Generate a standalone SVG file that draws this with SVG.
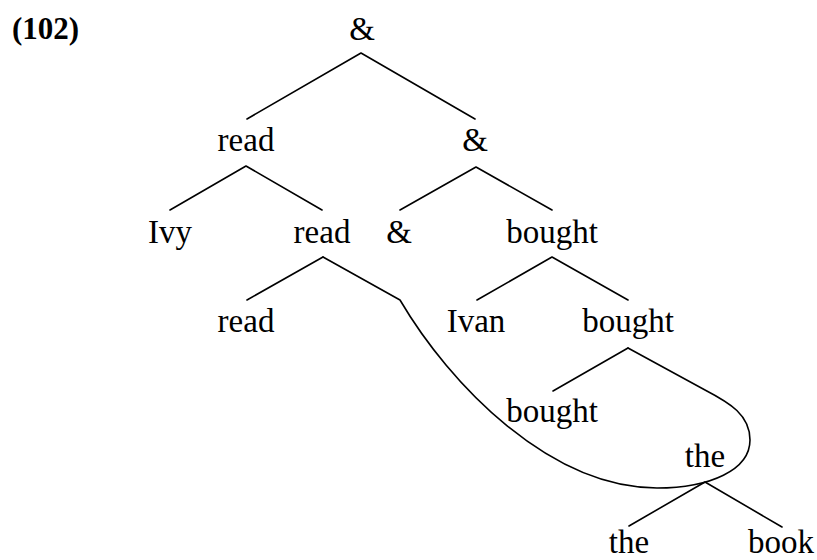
<svg xmlns="http://www.w3.org/2000/svg" width="817" height="560" viewBox="0 0 817 560">
<style>
text{font-family:"Liberation Serif","DejaVu Serif",serif;font-size:33px;fill:#000;text-anchor:middle}
.lbl{font-weight:bold;text-anchor:start;font-size:31px}
.e{stroke:#000;stroke-width:1.6;fill:none;stroke-linecap:round;stroke-linejoin:round}
</style>
<rect width="817" height="560" fill="#fff"/>
<text class="lbl" x="12" y="39">(102)</text>
<g id="connectors">
<path class="e" d="M361,53 L247,119 M361,53 L475,119"/>
<path class="e" d="M246,166 L170,210 M246,166 L322,210"/>
<path class="e" d="M476,167 L400,210 M476,167 L552,210"/>
<path class="e" d="M552,257 L477,300 M552,257 L628,300"/>
<path class="e" d="M323,257 L247,300"/>
<path class="e" d="M628,348 L553,391"/>
<path class="e" d="M705,482 L629,526 M705,482 L782,527"/>
<path id="movement" class="e" d="M323,257 L400,300 C450,385 550,488 657,488 C710,488 750,470 750,440 C750,415 730,403 705,390 L628,348"/>
</g>
<g id="n-root"><text x="362" y="40">&amp;</text></g>
<g id="n-read1"><text x="246" y="151">read</text></g>
<g id="n-and1"><text x="475" y="151">&amp;</text></g>
<g id="n-ivy"><text x="170" y="243">Ivy</text></g>
<g id="n-read2"><text x="322" y="243">read</text></g>
<g id="n-and2"><text x="399" y="243">&amp;</text></g>
<g id="n-bought1"><text x="552" y="243">bought</text></g>
<g id="n-read3"><text x="246" y="332">read</text></g>
<g id="n-ivan"><text x="476" y="332">Ivan</text></g>
<g id="n-bought2"><text x="628" y="332">bought</text></g>
<g id="n-bought3"><text x="552" y="422">bought</text></g>
<g id="n-the1"><text x="705" y="467">the</text></g>
<g id="n-the2"><text x="629" y="553">the</text></g>
<g id="n-book"><text x="781" y="553">book</text></g>
</svg>
